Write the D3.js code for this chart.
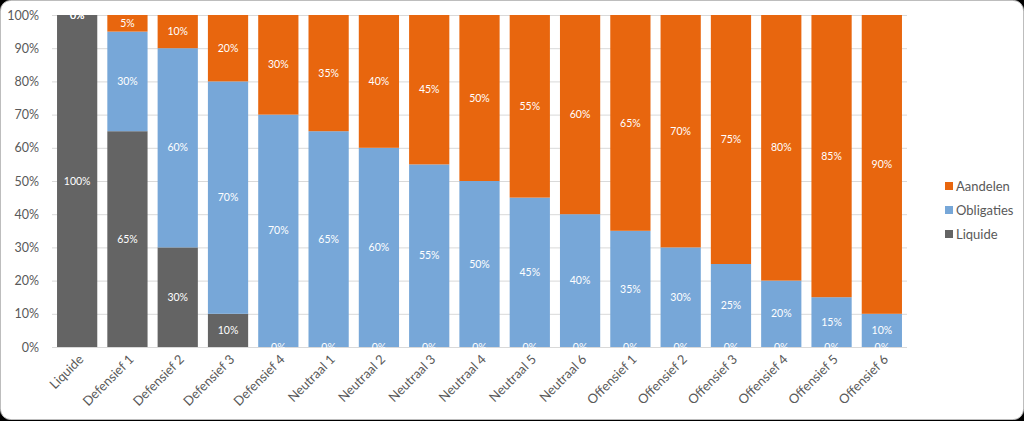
<!DOCTYPE html>
<html><head><meta charset="utf-8">
<script src="https://cdn.jsdelivr.net/npm/d3@7"></script>
<style>html,body{margin:0;padding:0;background:#000;}svg{display:block;}</style>
</head><body>
<svg id="c" width="1024" height="421"></svg>
<script>
const categories = ["Liquide","Defensief 1","Defensief 2","Defensief 3","Defensief 4","Neutraal 1","Neutraal 2","Neutraal 3","Neutraal 4","Neutraal 5","Neutraal 6","Offensief 1","Offensief 2","Offensief 3","Offensief 4","Offensief 5","Offensief 6"];
const liquide    = [100,65,30,10,0,0,0,0,0,0,0,0,0,0,0,0,0];
const obligaties = [0,30,60,70,70,65,60,55,50,45,40,35,30,25,20,15,10];
const aandelen   = [0,5,10,20,30,35,40,45,50,55,60,65,70,75,80,85,90];
const seriesNames = ["Liquide","Obligaties","Aandelen"];
const yTicks = [0,10,20,30,40,50,60,70,80,90,100];

const colors = {Liquide:"#646464", Obligaties:"#77A7D8", Aandelen:"#E8660E"};
const font = "Lato, 'Open Sans', sans-serif";

const svg = d3.select("#c");
svg.append("rect").attr("x",0.5).attr("y",0.5).attr("width",1023).attr("height",419)
  .attr("rx",10).attr("fill","#fff").attr("stroke","#bdbdbd");

const x = d3.scaleBand().domain(categories).range([52,907]).paddingInner(0.2).paddingOuter(0.1);
const y = d3.scaleLinear().domain([0,100]).range([347,15]);

const g = svg.append("g");
// gridlines
g.selectAll("line.grid").data(yTicks).join("line")
  .attr("x1",52).attr("x2",907).attr("y1",d=>y(d)+0.5).attr("y2",d=>y(d)+0.5)
  .attr("stroke","#d9d9d9").attr("stroke-width",1);

const yAxis = d3.axisLeft(y).tickValues(yTicks).tickFormat(d=>d+"%").tickSize(0).tickPadding(13);
const ya = svg.append("g").attr("transform","translate(52,0)").call(yAxis);
ya.select(".domain").remove();
ya.selectAll("text").attr("font-family",font).attr("font-size",12.5).attr("fill","#595959");

const table = categories.map((c,i)=>({cat:c, Liquide:liquide[i], Obligaties:obligaties[i], Aandelen:aandelen[i]}));
const stack = d3.stack().keys(seriesNames)(table);

const sg = svg.selectAll("g.s").data(stack).join("g").attr("class","s").attr("fill",d=>colors[d.key]);
sg.selectAll("rect").data(d=>d).join("rect")
  .attr("x",d=>x(d.data.cat)).attr("width",x.bandwidth())
  .attr("y",d=>y(d[1])).attr("height",d=>y(d[0])-y(d[1]));

const lg = svg.append("g");
stack.forEach(s=>{
  lg.selectAll(null).data(s).join("text")
    .attr("x",d=>x(d.data.cat)+x.bandwidth()/2)
    .attr("y",d=>(y(d[0])+y(d[1]))/2)
    .attr("dy","0.35em").attr("text-anchor","middle")
    .attr("font-family",font).attr("font-size",10.5).attr("fill","#fff")
    .text(d=>(d[1]-d[0])+"%");
});

// x axis labels
const xAxis = d3.axisBottom(x).tickSize(0).tickPadding(0);
const xa = svg.append("g").attr("transform","translate(0,347)").call(xAxis);
xa.select(".domain").remove();
xa.selectAll("text")
  .attr("font-family",font).attr("font-size",13).attr("fill","#595959")
  .attr("text-anchor","end").attr("dy","0.35em")
  .attr("transform","translate(4,10) rotate(-45)");

// legend
const legendOrder = ["Aandelen","Obligaties","Liquide"];
const leg = svg.append("g").selectAll("g").data(legendOrder).join("g")
  .attr("transform",(d,i)=>`translate(945,${186+i*24})`);
leg.append("rect").attr("x",0).attr("y",-4).attr("width",8).attr("height",8).attr("fill",d=>colors[d]);
leg.append("text").attr("x",11).attr("dy","0.35em").attr("font-family",font).attr("font-size",13)
  .attr("fill","#595959").text(d=>d);
</script>
</body></html>
